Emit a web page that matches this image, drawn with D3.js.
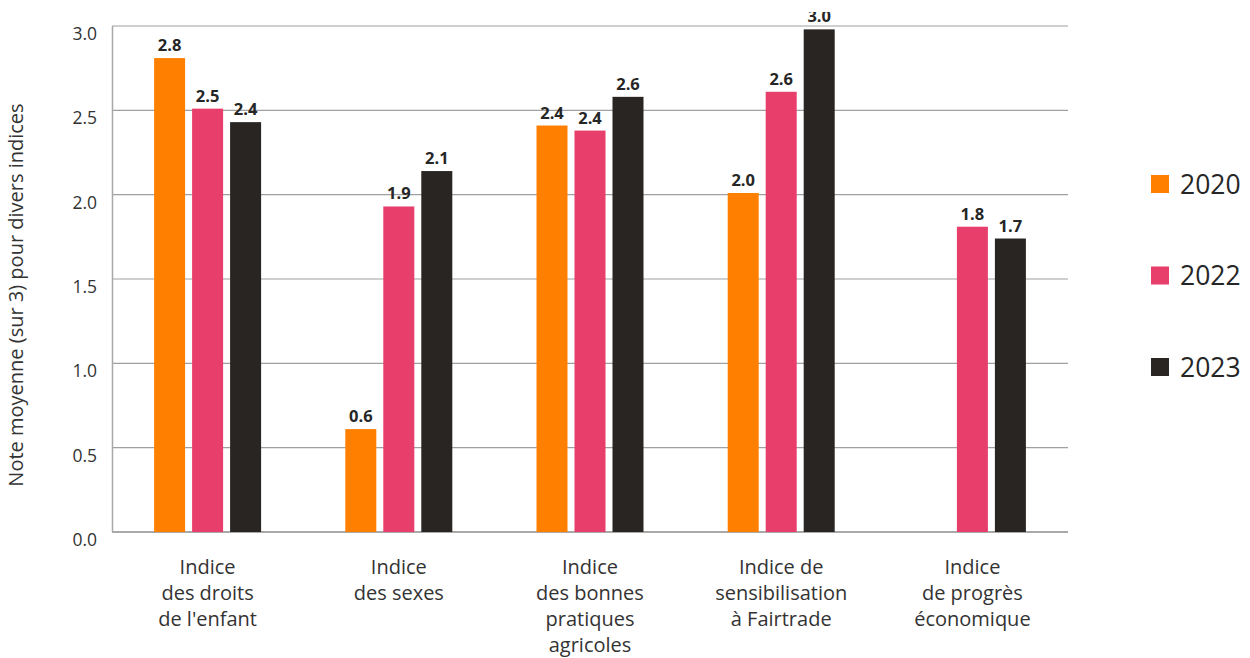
<!DOCTYPE html>
<html>
<head>
<meta charset="utf-8">
<script src="https://cdn.jsdelivr.net/npm/d3@7"></script>
<style>
  html, body { margin: 0; padding: 0; background: #fff; }
  svg { display: block; font-family: "Open Sans", "Noto Sans", sans-serif; }
</style>
</head>
<body>
<svg id="chart" width="1250" height="658"></svg>
<script>
// Indices (each label split into its display lines)
const categories = [
  ["Indice", "des droits", "de l'enfant"],
  ["Indice", "des sexes"],
  ["Indice", "des bonnes", "pratiques", "agricoles"],
  ["Indice de", "sensibilisation", "à Fairtrade"],
  ["Indice", "de progrès", "économique"]
];
const years = ["2020", "2022", "2023"];
// Average score (out of 3) per index; null = not measured that year
const values2020 = [2.81, 0.61, 2.41, 2.01, null];
const values2022 = [2.51, 1.93, 2.38, 2.61, 1.81];
const values2023 = [2.43, 2.14, 2.58, 2.98, 1.74];
const yTicks = [0, 0.5, 1.0, 1.5, 2.0, 2.5, 3.0];
const colors = ["#FF8000", "#E83E6C", "#292523"];
const yTitle = "Note moyenne (sur 3) pour divers indices";

const series = [values2020, values2022, values2023];

const svg = d3.select("#chart");
const plotLeft = 112, plotRight = 1068, plotTop = 26, plotBottom = 532;

const x0 = d3.scaleBand().domain(d3.range(categories.length)).range([plotLeft, plotRight]);
const groupW = 107;
const x1 = d3.scaleBand().domain(years).range([0, groupW]).paddingInner(0.184);
const y = d3.scaleLinear().domain([0, 3]).range([plotBottom, plotTop]);

// Horizontal gridlines
svg.append("g").selectAll("line").data(yTicks).join("line")
  .attr("x1", plotLeft).attr("x2", plotRight)
  .attr("y1", d => y(d)).attr("y2", d => y(d))
  .attr("stroke", d => d === 0 ? "#8c8c8c" : "#a0a0a0")
  .attr("stroke-width", d => d === 0 ? 1.6 : 1.2);

// Left axis line
svg.append("line")
  .attr("x1", plotLeft + 0.5).attr("x2", plotLeft + 0.5)
  .attr("y1", y(3)).attr("y2", y(0))
  .attr("stroke", "#a8a8a8").attr("stroke-width", 1.5);

// Y tick labels
svg.append("g").selectAll("text").data(yTicks).join("text")
  .attr("x", 97).attr("y", d => y(d) + 14)
  .attr("text-anchor", "end")
  .attr("font-size", 17.5).attr("fill", "#333")
  .text(d => d3.format(".1f")(d));

// Y axis title
svg.append("text")
  .attr("transform", "translate(23,295) rotate(-90)")
  .attr("text-anchor", "middle")
  .attr("font-size", 20).attr("fill", "#333")
  .text(yTitle);

// Bars
const bars = [];
categories.forEach((c, i) => {
  series.forEach((s, k) => {
    if (s[i] != null) bars.push({ i, k, v: s[i] });
  });
});
const gx = i => x0(i) + (x0.bandwidth() - groupW) / 2;

svg.append("g").selectAll("rect").data(bars).join("rect")
  .attr("x", d => gx(d.i) + x1(years[d.k]))
  .attr("width", x1.bandwidth())
  .attr("y", d => y(d.v))
  .attr("height", d => y(0) - y(d.v))
  .attr("fill", d => colors[d.k]);

// Value labels (clipped at the top of the drawing area)
svg.append("clipPath").attr("id", "labelClip")
  .append("rect").attr("x", 0).attr("y", 12).attr("width", 1250).attr("height", 646);

svg.append("g").attr("clip-path", "url(#labelClip)")
  .selectAll("text").data(bars).join("text")
  .attr("x", d => gx(d.i) + x1(years[d.k]) + x1.bandwidth() / 2)
  .attr("y", d => y(d.v) - 7)
  .attr("text-anchor", "middle")
  .attr("font-size", 16.5).attr("font-weight", 700).attr("fill", "#262626")
  .text(d => d3.format(".1f")(d.v));

// Category labels
const cat = svg.append("g").selectAll("text").data(categories).join("text")
  .attr("text-anchor", "middle")
  .attr("font-size", 20).attr("fill", "#333")
  .attr("x", (d, i) => x0(i) + x0.bandwidth() / 2);
cat.selectAll("tspan").data(d => d).join("tspan")
  .attr("x", function () { return d3.select(this.parentNode).attr("x"); })
  .attr("y", (d, j) => 574 + j * 26)
  .text(d => d);

// Legend
const leg = svg.append("g").selectAll("g").data(years).join("g")
  .attr("transform", (d, k) => `translate(1151,${175 + k * 91.5})`);
leg.append("rect").attr("width", 18).attr("height", 18)
  .attr("fill", (d, k) => colors[k]);
leg.append("text").attr("x", 29).attr("y", 18.5)
  .attr("font-size", 26.5).attr("fill", "#262626")
  .text(d => d);
</script>
</body>
</html>
